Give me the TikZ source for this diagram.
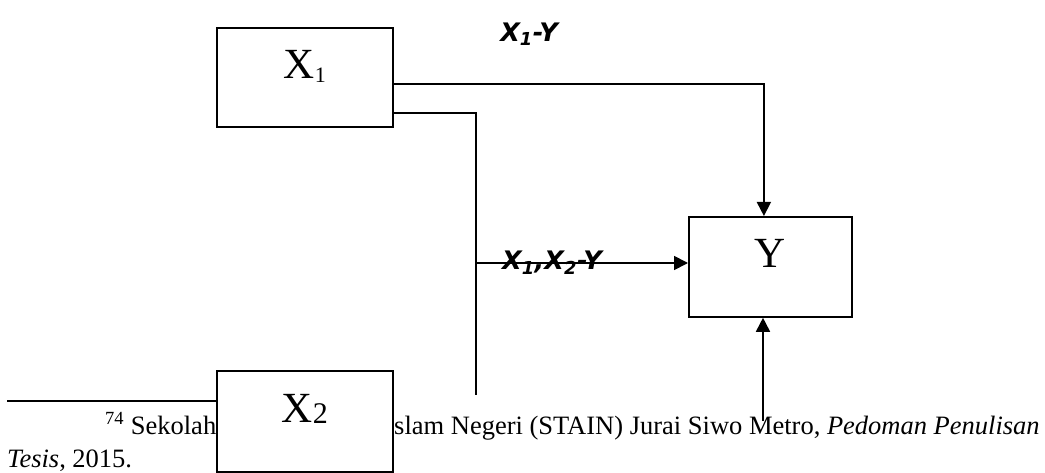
\documentclass[tikz,border=0pt]{standalone}
\usepackage{fontspec}
\setmainfont{Liberation Serif}
\newfontfamily\lblfont{DejaVu Sans}
\usepackage{xcolor}
\usepackage{tikz}
\usetikzlibrary{calc,arrows.meta,positioning}
\definecolor{inkc}{HTML}{000000}
\tikzset{
  ar/.style={-{Triangle[length=14pt,width=14pt]},line width=1.7pt,inkc},
  ln/.style={line width=1.7pt,inkc},
  box/.style={draw=inkc,line width=1.8pt,fill=white,inner sep=0pt,anchor=north west,font=\fontsize{43}{43}\selectfont},
  lbl/.style={inner sep=0pt,font=\fontsize{25.5}{25.5}\selectfont\lblfont\bfseries\itshape},
  fn/.style={inner sep=0pt,anchor=base west,font=\fontsize{26.5}{30}\selectfont}
}
\newcommand{\lowsub}[3]{\raisebox{#1}{\fontsize{#2}{#2}\selectfont #3}}

\begin{document}
\begin{tikzpicture}[x=1pt,y=-1pt]
\useasboundingbox (0,0) rectangle (1045,473);
\node[fn] (fn1) at (105,434) {\textsuperscript{74} Sekolah};
\node[fn] (fn2) at (394,434) {slam Negeri (STAIN) Jurai Siwo Metro, \textit{Pedoman Penulisan}};
\node[fn] (fn3) at (7,467) {\textit{Tesis}, 2015.};
\coordinate (rule) at (7,401);
\draw[ln] (rule) -- (rule -| 216,0);
\node[box,minimum width=176pt,text height=51pt,text depth=48pt] (x1) at (216,27) {X\lowsub{-4pt}{22}{1}};
\node[box,minimum width=176pt,text height=52pt,text depth=49pt] (x2) at (216,370) {X\lowsub{-1pt}{30}{2}};
\node[box,minimum width=163pt,text height=51pt,text depth=49pt] (y) at (688,216) {Y};
\coordinate (split) at (476,395);
\coordinate (join) at (476,263);
\coordinate (ybot) at (763,421);
\draw[ar] ([yshift=-6.5pt]x1.east) -| ([xshift=-6.5pt]y.north);
\draw[ln] ([yshift=-35.5pt]x1.east) -| (split);
\draw[ar] (join) -- (join -| y.west);
\draw[ar] (ybot) -- (ybot |- y.south);
\node[lbl] (lx1) at (529,34) {X\textsubscript{1}-Y};
\node[lbl] (lx12) at (552,263) {X\textsubscript{1},X\textsubscript{2}-Y};
\end{tikzpicture}
\end{document}
